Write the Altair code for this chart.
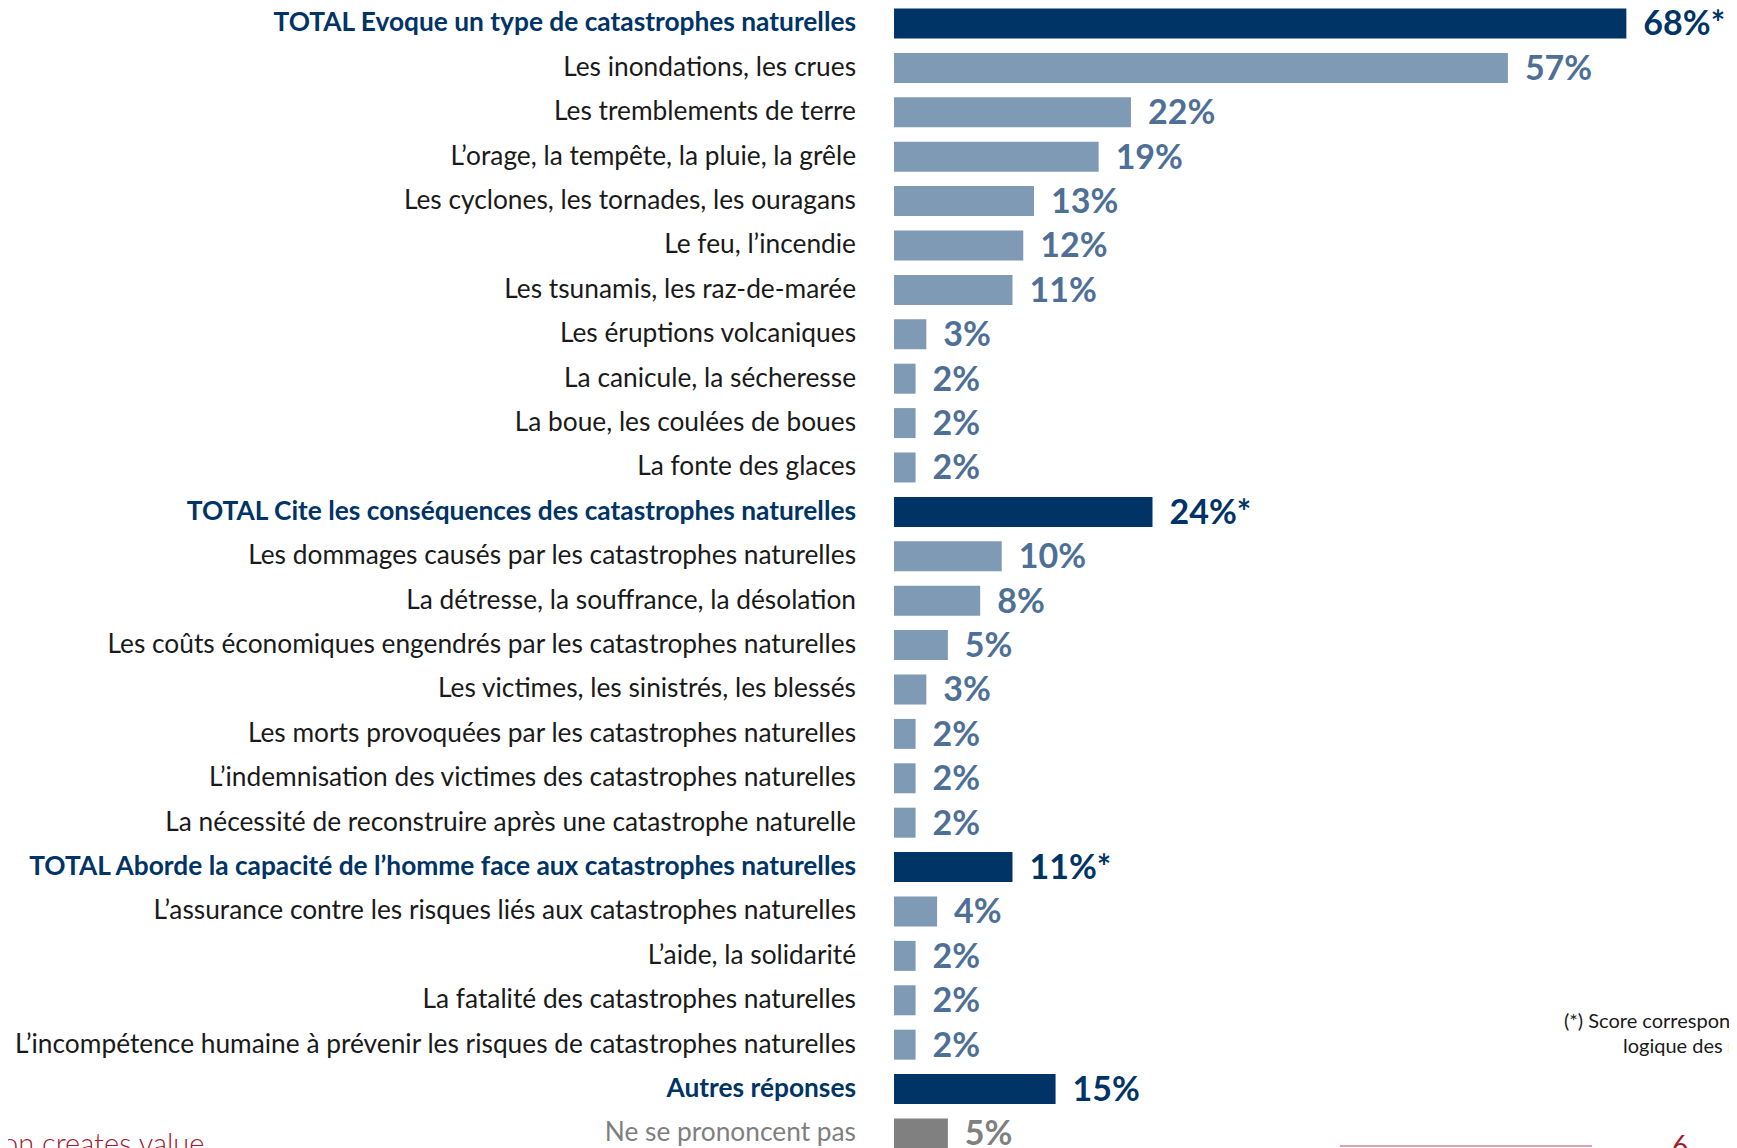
import altair as alt
import pandas as pd

labels = [
    "TOTAL Evoque un type de catastrophes naturelles",
    "Les inondations, les crues",
    "Les tremblements de terre",
    "L’orage, la tempête, la pluie, la grêle",
    "Les cyclones, les tornades, les ouragans",
    "Le feu, l’incendie",
    "Les tsunamis, les raz-de-marée",
    "Les éruptions volcaniques",
    "La canicule, la sécheresse",
    "La boue, les coulées de boues",
    "La fonte des glaces",
    "TOTAL Cite les conséquences des catastrophes naturelles",
    "Les dommages causés par les catastrophes naturelles",
    "La détresse, la souffrance, la désolation",
    "Les coûts économiques engendrés par les catastrophes naturelles",
    "Les victimes, les sinistrés, les blessés",
    "Les morts provoquées par les catastrophes naturelles",
    "L’indemnisation des victimes des catastrophes naturelles",
    "La nécessité de reconstruire après une catastrophe naturelle",
    "TOTAL Aborde la capacité de l’homme face aux catastrophes naturelles",
    "L’assurance contre les risques liés aux catastrophes naturelles",
    "L’aide, la solidarité",
    "La fatalité des catastrophes naturelles",
    "L’incompétence humaine à prévenir les risques de catastrophes naturelles",
    "Autres réponses",
    "Ne se prononcent pas",
]
values = [68, 57, 22, 19, 13, 12, 11, 3, 2, 2, 2,
          24, 10, 8, 5, 3, 2, 2, 2,
          11, 4, 2, 2, 2,
          15, 5]
kinds = ["total"] + ["item"] * 10 + ["total"] + ["item"] * 7 + ["total"] + ["item"] * 4 + ["total", "nsp"]
suffixes = ["*"] + [""] * 10 + ["*"] + [""] * 7 + ["*"] + [""] * 4 + ["", ""]

df = pd.DataFrame({
    "label": labels,
    "v": values,
    "kind": kinds,
    "idx": list(range(len(labels))),
    "txt": [f"{v}%{s}" for v, s in zip(values, suffixes)],
})

NAVY = "#003466"
LIGHT = "#7F9AB5"
LIGHT_TXT = "#4E6F96"
GREY = "#808080"

W, H = 1721, 1140
xs = alt.Scale(domain=[-82.27, 77.53], nice=False, zero=False, padding=0)
ys = alt.Scale(domain=[-0.349, 25.327], nice=False, zero=False, reverse=True, padding=0)
X0 = alt.datum(0, scale=xs, axis=None)
Y = alt.Y("idx:Q", scale=ys, axis=None)

base = alt.Chart(df)

bars = base.mark_bar(size=30, orient="horizontal").encode(
    x=alt.X("v:Q", scale=xs, axis=None),
    x2=alt.datum(0),
    y=Y,
    color=alt.Color("kind:N", scale=alt.Scale(domain=["total", "item", "nsp"], range=[NAVY, LIGHT, GREY]), legend=None),
)

vals = base.mark_text(align="left", baseline="middle", dx=17, dy=2, font="Lato", fontSize=34, fontWeight="bold").encode(
    x=alt.X("v:Q", scale=xs, axis=None),
    y=Y,
    text="txt:N",
    fill=alt.Fill("kind:N", scale=alt.Scale(domain=["total", "item", "nsp"], range=[NAVY, LIGHT_TXT, GREY]), legend=None),
)

LBL = 26.3
lab_total = base.transform_filter("datum.kind == 'total'").mark_text(
    align="right", baseline="middle", dx=-38, font="Lato", fontSize=LBL, fontWeight="bold", color=NAVY
).encode(x=X0, y=Y, text="label:N")

lab_item = base.transform_filter("datum.kind == 'item'").mark_text(
    align="right", baseline="middle", dx=-38, font="Lato", fontSize=LBL, color="#1A1A1A"
).encode(x=X0, y=Y, text="label:N")

lab_nsp = base.transform_filter("datum.kind == 'nsp'").mark_text(
    align="right", baseline="middle", dx=-38, font="Lato", fontSize=LBL, color="#7F7F7F"
).encode(x=X0, y=Y, text="label:N")

note1 = alt.Chart(pd.DataFrame({"t": ["(*) Score correspondant au regroupement"]})).mark_text(
    align="left", baseline="middle", font="Lato", fontSize=20, color="#1A1A1A"
).encode(x=alt.value(1556), y=alt.value(1014), text="t:N")
note2 = alt.Chart(pd.DataFrame({"t": ["logique des réponses"]})).mark_text(
    align="left", baseline="middle", font="Lato", fontSize=20, color="#1A1A1A"
).encode(x=alt.value(1615), y=alt.value(1039), text="t:N")

footer = alt.Chart(pd.DataFrame({"t": ["on creates value"]})).mark_text(
    align="left", baseline="alphabetic", font="Lato", fontSize=29, fontWeight=300, color="#A6192E"
).encode(x=alt.value(-6), y=alt.value(1146), text="t:N")
page = alt.Chart(pd.DataFrame({"t": ["6"]})).mark_text(
    align="left", baseline="alphabetic", font="Lato", fontSize=28, color="#A6192E"
).encode(x=alt.value(1664), y=alt.value(1148), text="t:N")
line = alt.Chart(pd.DataFrame({"a": [1]})).mark_rule(color="#D9A3B0", strokeWidth=2).encode(
    x=alt.value(1332), x2=alt.value(1584), y=alt.value(1138)
)

chart = alt.layer(bars, vals, lab_total, lab_item, lab_nsp, note1, note2, footer, page, line).resolve_scale(
    color="independent", fill="independent"
).properties(
    width=W, height=H, autosize=alt.AutoSizeParams(type="none"), padding=0
).configure_view(stroke=None)

chart.save("out.html", embed_options={"renderer": "svg", "actions": False})
